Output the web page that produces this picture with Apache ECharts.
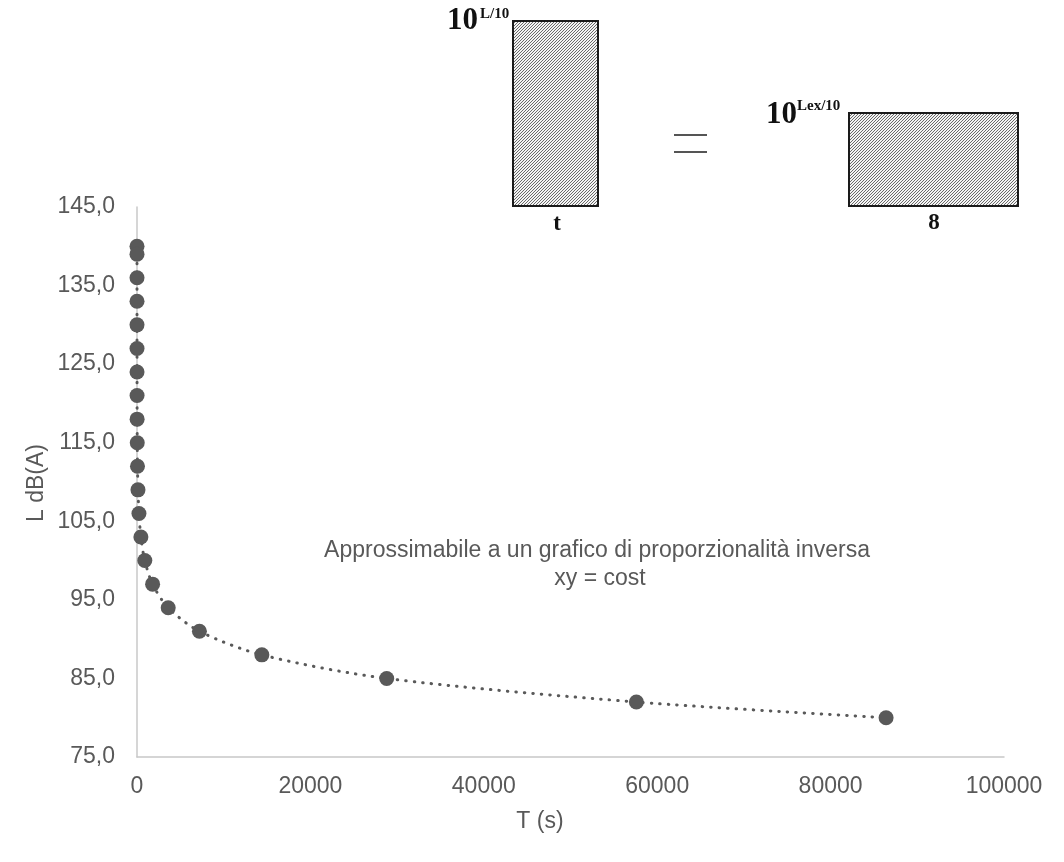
<!DOCTYPE html>
<html>
<head>
<meta charset="utf-8">
<script src="https://cdn.jsdelivr.net/npm/echarts@6/dist/echarts.min.js"></script>
<style>html,body{margin:0;padding:0;background:#fff;}#c{width:1064px;height:862px;}</style>
</head>
<body>
<div id="c"></div>
<script>
// Sound level L dB(A) and allowed exposure time T (s)
const levels = [140, 139, 136, 133, 130, 127, 124, 121, 118, 115, 112, 109, 106, 103, 100, 97, 94, 91, 88, 85, 82, 80];
const times  = [0.09, 0.11, 0.22, 0.44, 0.88, 1.76, 3.52, 7.03, 14.1, 28.1, 56.25, 112.5, 225, 450, 900, 1800, 3600, 7200, 14400, 28800, 57600, 86400];
const yTicks = [75, 85, 95, 105, 115, 125, 135, 145];
const xTicks = [0, 20000, 40000, 60000, 80000, 100000];
const xName = 'T (s)';
const yName = 'L dB(A)';
const noteLines = ['Approssimabile a un grafico di proporzionalità inversa', 'xy = cost'];

const pts = times.map((t, i) => [t, levels[i]]);
const GREY = '#595959';
const FONT = 'Liberation Sans, Arial, sans-serif';
const SERIF = 'Liberation Serif, Times New Roman, serif';

// hatch pattern
const pc = document.createElement('canvas');
pc.width = 3; pc.height = 3;
const g = pc.getContext('2d');
g.fillStyle = '#f4f4f4'; g.fillRect(0, 0, 3, 3);
g.strokeStyle = '#5a5a5a'; g.lineWidth = 0.9;
g.beginPath();
g.moveTo(-1, 4); g.lineTo(4, -1);
g.moveTo(-1, 1); g.lineTo(1, -1);
g.moveTo(2, 4); g.lineTo(4, 2);
g.stroke();
const hatch = { image: pc, repeat: 'repeat' };

const chart = echarts.init(document.getElementById('c'), null, { renderer: 'canvas' });
chart.setOption({
  animation: false,
  backgroundColor: '#ffffff',
  grid: { left: 137, right: 60, top: 207, bottom: 105, containLabel: false },
  xAxis: {
    type: 'value', min: xTicks[0], max: xTicks[xTicks.length - 1], interval: 20000,
    axisLine: { show: true, lineStyle: { color: '#c8c8c8', width: 1.5 } },
    axisTick: { show: false },
    splitLine: { show: false },
    axisLabel: { color: GREY, fontFamily: FONT, fontSize: 23, margin: 18, customValues: xTicks,
      formatter: v => String(v) }
  },
  yAxis: {
    type: 'value', min: yTicks[0], max: yTicks[yTicks.length - 1],
    axisLine: { show: true, lineStyle: { color: '#c8c8c8', width: 1.5 } },
    axisTick: { show: false },
    splitLine: { show: false },
    axisLabel: {
      color: GREY, fontFamily: FONT, fontSize: 23, margin: 22, customValues: yTicks,
      formatter: v => v.toFixed(1).replace('.', ',')
    }
  },
  series: [
    {
      type: 'line', data: pts, showSymbol: false, smooth: 0.3,
      lineStyle: { color: GREY, width: 3, type: [0.5, 8], cap: 'round' }, z: 1, silent: true
    },
    {
      type: 'scatter', data: pts, symbol: 'circle', symbolSize: 15,
      itemStyle: { color: GREY, opacity: 1 }, z: 2
    }
  ],
  graphic: [
    { type: 'text', x: 37, y: 483, rotation: Math.PI / 2,
      style: { text: yName, fill: GREY, font: '23px ' + FONT, align: 'center', verticalAlign: 'middle' } },
    { type: 'text', x: 540, y: 822,
      style: { text: xName, fill: GREY, font: '23px ' + FONT, align: 'center', verticalAlign: 'middle' } },
    { type: 'text', x: 597, y: 551,
      style: { text: noteLines[0], fill: GREY, font: '23px ' + FONT, align: 'center', verticalAlign: 'middle' } },
    { type: 'text', x: 600, y: 579,
      style: { text: noteLines[1], fill: GREY, font: '23px ' + FONT, align: 'center', verticalAlign: 'middle' } },
    // left rectangle
    { type: 'rect', shape: { x: 513, y: 21, width: 85, height: 185 },
      style: { fill: hatch, stroke: '#1a1a1a', lineWidth: 2 } },
    { type: 'text', x: 447, y: 21,
      style: { text: '10', fill: '#111', font: 'bold 31px ' + SERIF, align: 'left', verticalAlign: 'middle' } },
    { type: 'text', x: 480, y: 14,
      style: { text: 'L/10', fill: '#111', font: 'bold 15px ' + SERIF, align: 'left', verticalAlign: 'middle' } },
    { type: 'text', x: 557, y: 224,
      style: { text: 't', fill: '#111', font: 'bold 23px ' + SERIF, align: 'center', verticalAlign: 'middle' } },
    // equals sign
    { type: 'line', shape: { x1: 674, y1: 135, x2: 707, y2: 135 }, style: { stroke: '#555', lineWidth: 2 } },
    { type: 'line', shape: { x1: 674, y1: 152, x2: 707, y2: 152 }, style: { stroke: '#555', lineWidth: 2 } },
    // right rectangle
    { type: 'rect', shape: { x: 849, y: 113, width: 169, height: 93 },
      style: { fill: hatch, stroke: '#1a1a1a', lineWidth: 2 } },
    { type: 'text', x: 766, y: 115,
      style: { text: '10', fill: '#111', font: 'bold 31px ' + SERIF, align: 'left', verticalAlign: 'middle' } },
    { type: 'text', x: 797, y: 106,
      style: { text: 'Lex/10', fill: '#111', font: 'bold 15px ' + SERIF, align: 'left', verticalAlign: 'middle' } },
    { type: 'text', x: 934, y: 223,
      style: { text: '8', fill: '#111', font: 'bold 23px ' + SERIF, align: 'center', verticalAlign: 'middle' } }
  ]
});
</script>
</body>
</html>
